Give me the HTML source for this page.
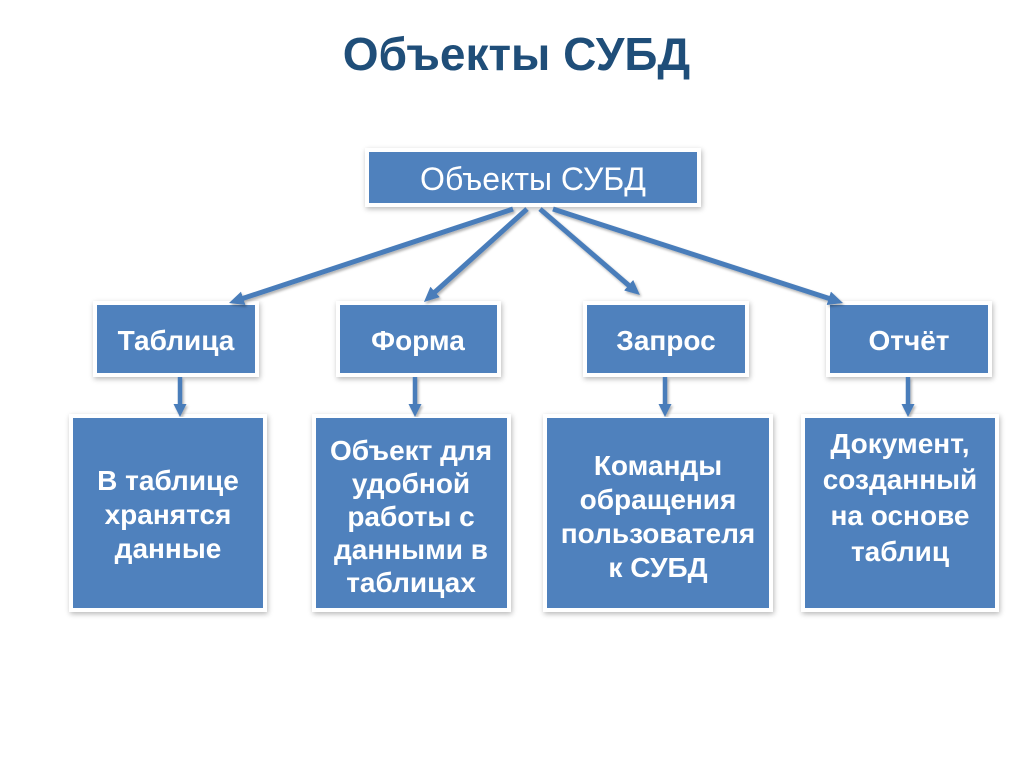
<!DOCTYPE html>
<html>
<head>
<meta charset="utf-8">
<style>
  html, body { margin:0; padding:0; }
  body { width:1024px; height:767px; background:#fff; position:relative; overflow:hidden;
         font-family:"Liberation Sans", Arial, sans-serif; }
  .title { position:absolute; left:0; width:1033px; top:24px; text-align:center;
           font-size:46px; font-weight:bold; color:#1f4e79; line-height:60px; }
  .box { position:absolute; background:#4f81bd;
         box-shadow: 0 0 0 4px #fff, 1px 2px 5px 4px rgba(0,0,0,0.28); }
  svg { position:absolute; left:0; top:0; }
  text { font-family:"Liberation Sans", Arial, sans-serif; fill:#fff; }
</style>
</head>
<body>
<div class="title">Объекты СУБД</div>

<!-- top box -->
<div class="box" style="left:369px;top:152px;width:328px;height:51px;z-index:2"></div>
<!-- second row -->
<div class="box" style="left:97px;top:305px;width:158px;height:68px;z-index:2"></div>
<div class="box" style="left:340px;top:305px;width:157px;height:68px;z-index:2"></div>
<div class="box" style="left:587px;top:305px;width:158px;height:68px;z-index:2"></div>
<div class="box" style="left:830px;top:305px;width:158px;height:68px;z-index:2"></div>
<!-- bottom row -->
<div class="box" style="left:73px;top:418px;width:190px;height:190px;z-index:2"></div>
<div class="box" style="left:316px;top:418px;width:191px;height:190px;z-index:2"></div>
<div class="box" style="left:547px;top:418px;width:222px;height:190px;z-index:2"></div>
<div class="box" style="left:805px;top:418px;width:190px;height:190px;z-index:2"></div>

<svg width="1024" height="767" viewBox="0 0 1024 767" style="z-index:3">
  <defs>
    <marker id="ah" markerUnits="userSpaceOnUse" markerWidth="18" markerHeight="18" refX="7" refY="7.5" orient="auto">
      <path d="M0,0.5 L15,7.5 L0,14.5 z" fill="#4a7dba"/>
    </marker>
    <marker id="av" markerUnits="userSpaceOnUse" markerWidth="16" markerHeight="16" refX="6" refY="6.5" orient="auto">
      <path d="M0,0 L13,6.5 L0,13 z" fill="#4a7dba"/>
    </marker>
    <filter id="sh" x="-10%" y="-10%" width="130%" height="130%">
      <feDropShadow dx="1.5" dy="2" stdDeviation="1.2" flood-color="#000" flood-opacity="0.3"/>
    </filter>
  </defs>
  <g stroke="#4a7dba" stroke-width="5" fill="none" marker-end="url(#ah)" filter="url(#sh)">
    <line x1="513" y1="209" x2="236.6" y2="300.5"/>
    <line x1="527" y1="209" x2="429.9" y2="296.6"/>
    <line x1="540" y1="209" x2="633.9" y2="289.8"/>
    <line x1="553" y1="209" x2="835.4" y2="300.5"/>
  </g>
  <g stroke="#4a7dba" stroke-width="4.5" fill="none" marker-end="url(#av)" filter="url(#sh)">
    <line x1="180" y1="377" x2="180" y2="410"/>
    <line x1="415" y1="377" x2="415" y2="410"/>
    <line x1="665" y1="377" x2="665" y2="410"/>
    <line x1="908" y1="377" x2="908" y2="410"/>
  </g>
</svg>

<svg width="1024" height="767" viewBox="0 0 1024 767" style="z-index:4">
  <text x="533" y="190" font-size="32" text-anchor="middle">Объекты СУБД</text>

  <g font-size="28" font-weight="bold" text-anchor="middle">
    <text x="176" y="350">Таблица</text>
    <text x="418" y="350">Форма</text>
    <text x="666" y="350">Запрос</text>
    <text x="909" y="350">Отчёт</text>

    <text x="168" y="490">В таблице</text>
    <text x="168" y="524">хранятся</text>
    <text x="168" y="558">данные</text>

    <text x="411" y="460">Объект для</text>
    <text x="411" y="493">удобной</text>
    <text x="411" y="526">работы с</text>
    <text x="411" y="559">данными в</text>
    <text x="411" y="592">таблицах</text>

    <text x="658" y="475">Команды</text>
    <text x="658" y="509">обращения</text>
    <text x="658" y="543">пользователя</text>
    <text x="658" y="577">к СУБД</text>

    <text x="900" y="453">Документ,</text>
    <text x="900" y="489">созданный</text>
    <text x="900" y="525">на основе</text>
    <text x="900" y="561">таблиц</text>
  </g>
</svg>
</body>
</html>
